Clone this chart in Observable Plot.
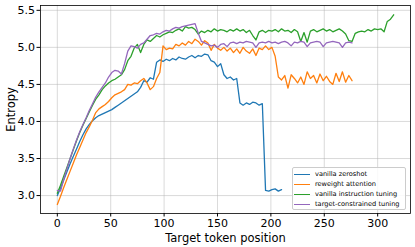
<!DOCTYPE html>
<html>
<head>
<meta charset="utf-8">
<script src="https://cdn.jsdelivr.net/npm/d3@7"></script>
<script src="https://cdn.jsdelivr.net/npm/@observablehq/plot@0.6"></script>
<style>
  html, body { margin: 0; padding: 0; background: #fff; }
  #wrap { position: relative; width: 415px; height: 247px; font-family: "DejaVu Sans", sans-serif; }
  #legend { position: absolute; left: 292px; top: 167px; width: 114px; height: 43px;
    border: 1px solid #cccccc; border-radius: 2px; background: rgba(255,255,255,0.85);
    font-size: 6.6px; color: #000; box-sizing: border-box; padding-top: 1px; white-space: nowrap; }
  .row { display: flex; align-items: center; height: 10.1px; }
  .sw { width: 16px; height: 0; border-top: 1.3px solid; margin-left: 1px; margin-right: 5px; flex: none; }
</style>
</head>
<body>
<div id="wrap"></div>
<script>
const seriesNames = ["vanilla zeroshot", "reweight attention", "vanilla instruction tuning", "target-constrained tuning"];
const seriesColors = ["#1f77b4", "#ff7f0e", "#2ca02c", "#9467bd"];
const step = 3; // token positions sampled every 3 tokens
const xTicks = [0, 50, 100, 150, 200, 250, 300];
const yTicks = [3.0, 3.5, 4.0, 4.5, 5.0, 5.5];

const zeroshot = [3.00,3.10,3.21,3.32,3.43,3.53,3.63,3.73,3.82,3.90,3.96,4.01,4.05,4.08,4.10,4.12,4.14,4.16,4.19,4.22,
  4.25,4.28,4.31,4.34,4.37,4.40,4.46,4.55,4.53,4.59,4.57,4.80,4.83,4.81,4.84,4.82,4.85,4.83,4.87,4.85,
  4.84,4.87,4.89,4.86,4.89,4.88,4.91,4.90,4.82,4.80,4.74,4.78,4.63,4.58,4.60,4.56,4.58,4.25,4.22,4.25,
  4.23,4.26,4.25,4.22,4.24,3.07,3.06,3.08,3.09,3.06,3.08];
const reweight = [2.88,2.99,3.11,3.22,3.33,3.44,3.55,3.65,3.75,3.85,3.93,4.02,4.12,4.17,4.20,4.23,4.27,4.32,4.36,4.38,
  4.40,4.43,4.50,4.49,4.52,4.51,4.55,4.58,4.52,4.43,4.47,4.58,4.66,5.02,4.97,4.99,4.98,5.04,5.02,5.06,
  5.03,5.08,5.05,5.11,5.08,5.03,5.09,5.06,4.96,5.04,4.99,4.96,5.00,4.95,4.99,4.93,4.98,4.92,5.00,4.95,
  4.92,4.98,4.89,4.99,4.97,5.02,4.97,5.00,4.88,4.60,4.56,4.62,4.45,4.63,4.58,4.52,4.60,4.50,4.67,4.58,
  4.62,4.52,4.64,4.55,4.61,4.54,4.50,4.65,4.54,4.67,4.53,4.62,4.55];
const instruction = [3.03,3.14,3.26,3.38,3.50,3.62,3.74,3.85,3.95,4.04,4.13,4.22,4.30,4.36,4.43,4.48,4.52,4.55,4.57,4.60,
  4.63,4.70,4.82,4.88,4.99,5.04,4.93,5.04,5.10,5.08,5.12,5.16,5.14,5.17,5.19,5.21,5.20,5.23,5.25,5.22,
  5.28,5.26,5.27,5.24,5.18,5.22,5.20,5.23,5.21,5.25,5.22,5.24,5.23,5.21,5.24,5.22,5.25,5.22,5.24,5.20,
  5.23,5.16,5.10,5.21,5.23,5.20,5.23,5.22,5.24,5.21,5.25,5.22,5.23,5.20,5.24,5.21,5.08,5.20,5.07,5.22,
  5.24,5.21,5.23,5.25,5.22,5.24,5.21,5.23,5.25,5.22,5.18,5.09,5.08,5.19,5.21,5.22,5.21,5.24,5.22,5.25,
  5.24,5.25,5.21,5.35,5.38,5.44];
const constrained = [3.07,3.06,3.22,3.36,3.50,3.63,3.75,3.86,3.96,4.05,4.15,4.24,4.33,4.40,4.46,4.52,4.60,4.66,4.69,4.68,
  4.64,4.78,4.95,5.02,5.01,4.99,5.04,5.06,5.11,5.16,5.17,5.19,5.18,5.21,5.23,5.22,5.25,5.27,5.26,5.28,
  5.29,5.30,5.31,5.32,5.19,5.08,5.06,5.04,5.02,5.03,5.00,5.04,5.05,5.01,5.06,5.07,5.05,5.07,5.06,5.08,
  5.07,5.06,5.00,5.06,5.07,5.06,5.08,5.06,5.07,5.05,5.07,5.08,5.06,5.02,5.07,5.06,5.08,5.07,5.01,5.06,
  5.07,5.08,5.07,5.01,5.06,5.07,5.08,5.07,5.06,5.00,5.06,5.07,5.06];

const allSeries = [zeroshot, reweight, instruction, constrained];
const rows = allSeries.flatMap((vals, s) => vals.map((v, i) => ({x: i * step, y: v, series: seriesNames[s]})));

const font = "DejaVu Sans, sans-serif";
const chart = Plot.plot({
  width: 415, height: 247,
  marginLeft: 40, marginRight: 5, marginTop: 5, marginBottom: 34,
  style: {fontFamily: font, fontSize: "11px", background: "white", color: "black"},
  x: {domain: [-15.75, 330.75]},
  y: {domain: [2.758, 5.565]},
  color: {domain: seriesNames, range: seriesColors},
  marks: [
    Plot.gridX(xTicks, {stroke: "#b0b0b0", strokeOpacity: 0.6, strokeWidth: 0.8}),
    Plot.gridY(yTicks, {stroke: "#b0b0b0", strokeOpacity: 0.6, strokeWidth: 0.8}),
    Plot.line(rows, {x: "x", y: "y", z: "series", stroke: "series", strokeWidth: 1.3}),
    Plot.frame({stroke: "black", strokeWidth: 0.8}),
    Plot.axisX(xTicks, {tickSize: 3.5, tickPadding: 2, fontSize: 11, label: null}),
    Plot.axisX({ticks: [], tickSize: 0, fontSize: 11.5, label: "Target token position",
      labelAnchor: "center", labelArrow: "none", labelOffset: 28}),
    Plot.axisY(yTicks, {tickSize: 3.5, tickPadding: 2, fontSize: 11, tickFormat: d3.format(".1f"), label: null}),
    Plot.axisY({ticks: [], tickSize: 0, fontSize: 11.5, label: "Entropy", labelAnchor: "center",
      labelArrow: "none", labelOffset: 34})
  ]
});
const wrap = document.getElementById("wrap");
wrap.appendChild(chart);

const legend = document.createElement("div");
legend.id = "legend";
seriesNames.forEach((name, i) => {
  const r = document.createElement("div");
  r.className = "row";
  const sw = document.createElement("span");
  sw.className = "sw";
  sw.style.borderTopColor = seriesColors[i];
  const t = document.createElement("span");
  t.textContent = name;
  r.appendChild(sw); r.appendChild(t);
  legend.appendChild(r);
});
wrap.appendChild(legend);
</script>
</body>
</html>
